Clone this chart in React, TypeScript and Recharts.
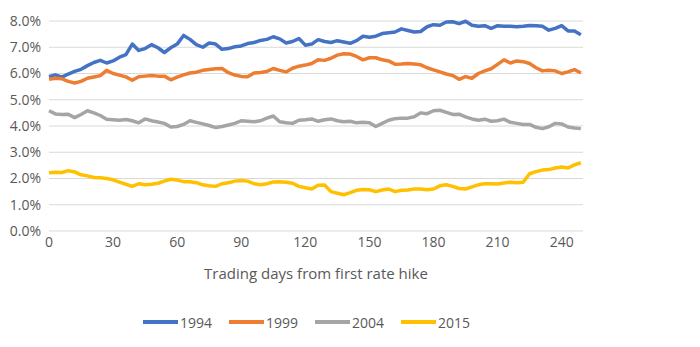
import { LineChart, Line, XAxis, YAxis, CartesianGrid, Legend, Label } from "recharts";

// trading day index, sampled every 3 days
const days = Array.from({ length: 84 }, (_, i) => i * 3);

const s1994 = [
  5.88, 5.95, 5.86, 5.98, 6.08, 6.16, 6.3, 6.42, 6.5, 6.4, 6.48, 6.62, 6.72, 7.12, 6.88, 6.95, 7.1, 6.98, 6.8, 6.98, 7.12,
  7.45, 7.3, 7.1, 7.0, 7.16, 7.12, 6.92, 6.95, 7.02, 7.05, 7.14, 7.18, 7.26, 7.3, 7.4, 7.32, 7.16, 7.22, 7.33, 7.08, 7.12,
  7.29, 7.22, 7.18, 7.25, 7.2, 7.15, 7.25, 7.42, 7.38, 7.42, 7.52, 7.55, 7.58, 7.7, 7.64, 7.58, 7.6, 7.78, 7.86, 7.84,
  7.96, 7.97, 7.9, 7.99, 7.84, 7.8, 7.82, 7.72, 7.82, 7.8, 7.8, 7.78, 7.8, 7.83, 7.82, 7.8, 7.65, 7.72, 7.82, 7.62, 7.62,
  7.48,
];

const s1999 = [
  5.78, 5.82, 5.8, 5.7, 5.64, 5.7, 5.82, 5.87, 5.92, 6.12, 6.0, 5.94, 5.87, 5.74, 5.88, 5.9, 5.92, 5.9, 5.9, 5.76, 5.86,
  5.95, 6.02, 6.05, 6.12, 6.15, 6.18, 6.19, 6.03, 5.94, 5.89, 5.88, 6.02, 6.04, 6.08, 6.19, 6.12, 6.06, 6.2, 6.28, 6.32,
  6.38, 6.52, 6.5, 6.58, 6.7, 6.75, 6.74, 6.65, 6.52, 6.6, 6.6, 6.52, 6.48, 6.35, 6.36, 6.38, 6.36, 6.33, 6.22, 6.14,
  6.06, 5.98, 5.92, 5.78, 5.88, 5.82, 6.0, 6.1, 6.18, 6.35, 6.52, 6.4, 6.48, 6.45, 6.38, 6.22, 6.1, 6.12, 6.1, 6.0, 6.06,
  6.15, 6.02,
];

const s2004 = [
  4.58, 4.46, 4.44, 4.45, 4.32, 4.44, 4.58, 4.5, 4.4, 4.26, 4.24, 4.22, 4.25, 4.2, 4.12, 4.27, 4.2, 4.15, 4.1, 3.96, 3.98,
  4.06, 4.2, 4.14, 4.08, 4.02, 3.94, 3.98, 4.04, 4.1, 4.2, 4.18, 4.16, 4.2, 4.3, 4.38, 4.16, 4.12, 4.1, 4.22, 4.24, 4.27,
  4.18, 4.24, 4.27, 4.2, 4.16, 4.18, 4.12, 4.14, 4.12, 3.98, 4.1, 4.22, 4.28, 4.3, 4.3, 4.35, 4.5, 4.47, 4.58, 4.6, 4.52,
  4.44, 4.45, 4.35, 4.27, 4.22, 4.26, 4.18, 4.2, 4.26, 4.14, 4.1, 4.06, 4.06, 3.95, 3.9, 3.97, 4.1, 4.08, 3.96, 3.92, 3.9,
];

const s2015 = [
  2.22, 2.24, 2.23, 2.3, 2.25, 2.14, 2.1, 2.04, 2.03, 2.0, 1.95, 1.86, 1.78, 1.7, 1.8, 1.76, 1.78, 1.82, 1.9, 1.97, 1.94,
  1.88, 1.88, 1.84, 1.76, 1.72, 1.7, 1.8, 1.84, 1.9, 1.92, 1.9, 1.8, 1.76, 1.8, 1.87, 1.88, 1.86, 1.82, 1.7, 1.65, 1.6,
  1.74, 1.75, 1.5, 1.44, 1.38, 1.46, 1.55, 1.58, 1.57, 1.5, 1.56, 1.6, 1.5, 1.55, 1.56, 1.6, 1.6, 1.57, 1.6, 1.72, 1.76,
  1.7, 1.62, 1.6, 1.68, 1.76, 1.8, 1.8, 1.79, 1.83, 1.86, 1.84, 1.86, 2.18, 2.26, 2.32, 2.34, 2.4, 2.44, 2.4, 2.52, 2.6,
];

const xTicks = [0, 30, 60, 90, 120, 150, 180, 210, 240];
const yTicks = [0, 1, 2, 3, 4, 5, 6, 7, 8];

const series = [
  { key: "y1994", name: "1994", color: "#4472C4" },
  { key: "y1999", name: "1999", color: "#ED7D31" },
  { key: "y2004", name: "2004", color: "#A5A5A5" },
  { key: "y2015", name: "2015", color: "#FFC000" },
];

const data = days.map((d, i) => ({
  day: d,
  y1994: s1994[i],
  y1999: s1999[i],
  y2004: s2004[i],
  y2015: s2015[i],
}));

const font = "'Open Sans', sans-serif";
const textColor = "#595959";

const LegendContent = () => (
  <div style={{ display: "flex", paddingLeft: 143, fontFamily: font, fontSize: 14, color: textColor, height: 20, alignItems: "center" }}>
    {series.map((s) => (
      <div key={s.key} style={{ width: 86, display: "flex", alignItems: "center" }}>
        <span style={{ width: 35, height: 4, background: s.color, display: "inline-block", marginRight: 2 }} />
        <span>{s.name}</span>
      </div>
    ))}
  </div>
);

const App = () => {
  return (
    <div style={{ position: "absolute", left: 0, top: 0, width: 700, height: 347, background: "#fff" }}>
      <LineChart width={700} height={347} data={data} margin={{ top: 21, right: 117, left: 0, bottom: 36 }}>
        <CartesianGrid vertical={false} stroke="#D9D9D9" strokeWidth={1} />
        <XAxis
          dataKey="day"
          type="number"
          domain={[0, 250]}
          ticks={xTicks}
          axisLine={false}
          tickLine={false}
          tickSize={0}
          tickMargin={6}
          height={60}
          tick={{ fill: textColor, fontSize: 14, fontFamily: font }}
        >
          <Label
            value="Trading days from first rate hike"
            position="insideBottom"
            offset={12}
            style={{ fill: textColor, fontSize: 15, fontFamily: font }}
          />
        </XAxis>
        <YAxis
          domain={[0, 8]}
          ticks={yTicks}
          axisLine={false}
          tickLine={false}
          width={49}
          tickFormatter={(v: number) => v.toFixed(1) + "%"}
          tick={{ fill: textColor, fontSize: 14, fontFamily: font }}
        />
        <Legend
          content={<LegendContent />}
          wrapperStyle={{ position: "absolute", top: 312, bottom: "auto", left: 0, width: 700, height: 20 }}
        />
        {series.map((s) => (
          <Line
            key={s.key}
            type="linear"
            dataKey={s.key}
            name={s.name}
            stroke={s.color}
            strokeWidth={3.5}
            strokeLinejoin="round"
            dot={false}
            isAnimationActive={false}
          />
        ))}
      </LineChart>
    </div>
  );
};

export default App;
